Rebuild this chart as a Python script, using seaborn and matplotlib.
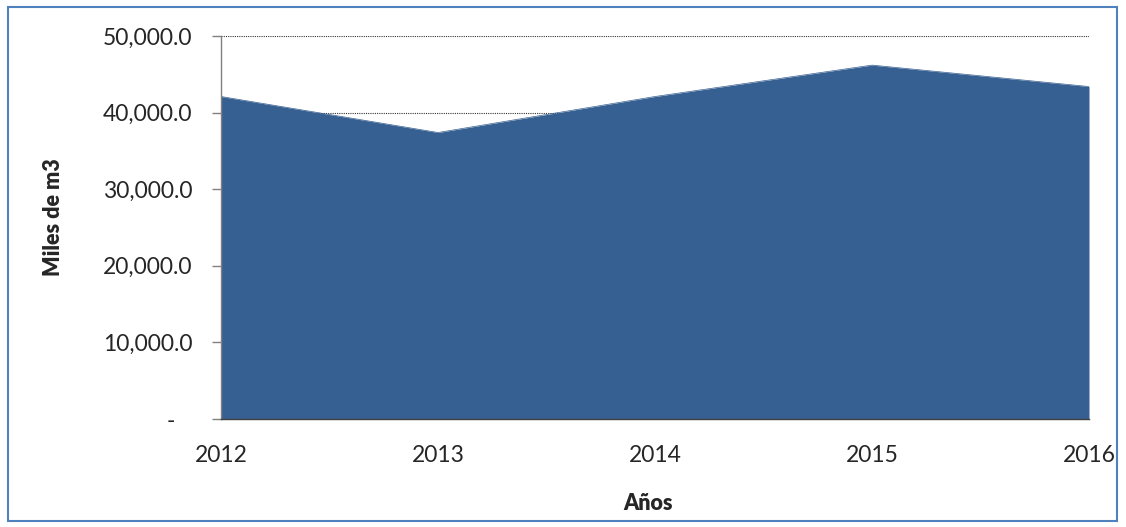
import matplotlib
matplotlib.use("Agg")
import matplotlib.pyplot as plt
import seaborn as sns
import pandas as pd
from matplotlib.ticker import FuncFormatter
from matplotlib.patches import Rectangle

years = [2012, 2013, 2014, 2015, 2016]
values = [42100, 37400, 42100, 46200, 43400]
yticks = [0, 10000, 20000, 30000, 40000, 50000]

sns.set_theme(style="white")
plt.rcParams['font.family'] = ['Lato', 'DejaVu Sans']

df = pd.DataFrame({"Año": years, "Valor": values})

fig = plt.figure(figsize=(11.26, 5.27), dpi=100)
ax = fig.add_axes([221/1126, 1 - 419/527, (1089-221)/1126, (419-36)/527])

for t in yticks[1:]:
    ax.axhline(t, color="#333333", lw=0.8, ls=(0, (1, 1)), zorder=0)

sns.lineplot(data=df, x="Año", y="Valor", ax=ax, color="#376092", lw=0.5, zorder=2)
ax.fill_between(df["Año"], df["Valor"], 0, color="#376092", lw=0, zorder=2)

ax.set_xlim(years[0], years[-1])
ax.set_ylim(0, 50000)
ax.set_xticks(years)
ax.set_xticklabels([str(y) for y in years])
ax.set_yticks(yticks)
ax.yaxis.set_major_formatter(FuncFormatter(lambda v, p: "-   " if v == 0 else f"{v:,.1f}"))

for s in ["top", "right"]:
    ax.spines[s].set_visible(False)
ax.spines["left"].set_color("#808080")
ax.spines["bottom"].set_color("#404040")
ax.spines["left"].set_linewidth(1)
ax.spines["bottom"].set_linewidth(1)
ax.tick_params(axis="y", left=True, length=6.5, width=1, color="#808080", labelsize=16.5, pad=14)
ax.tick_params(axis="x", bottom=True, length=0, labelsize=16.5, pad=19)

ax.set_xlabel("Años", fontsize=15.5, fontweight="heavy")
ax.set_ylabel("Miles de m3", fontsize=15.5, fontweight="heavy")
ax.xaxis.set_label_coords((648-221)/868, (419-503)/383)
ax.xaxis.label.set_va("center")
ax.yaxis.set_label_coords((53-221)/868, (419-217.5)/383)
ax.yaxis.label.set_va("center")

fig.patches.append(Rectangle((8/1126, 6/527), (1117-8)/1126, (520-6)/527,
                             transform=fig.transFigure, fill=False,
                             edgecolor="#4F81BD", lw=1.5))

fig.savefig("out.png", dpi=100)
